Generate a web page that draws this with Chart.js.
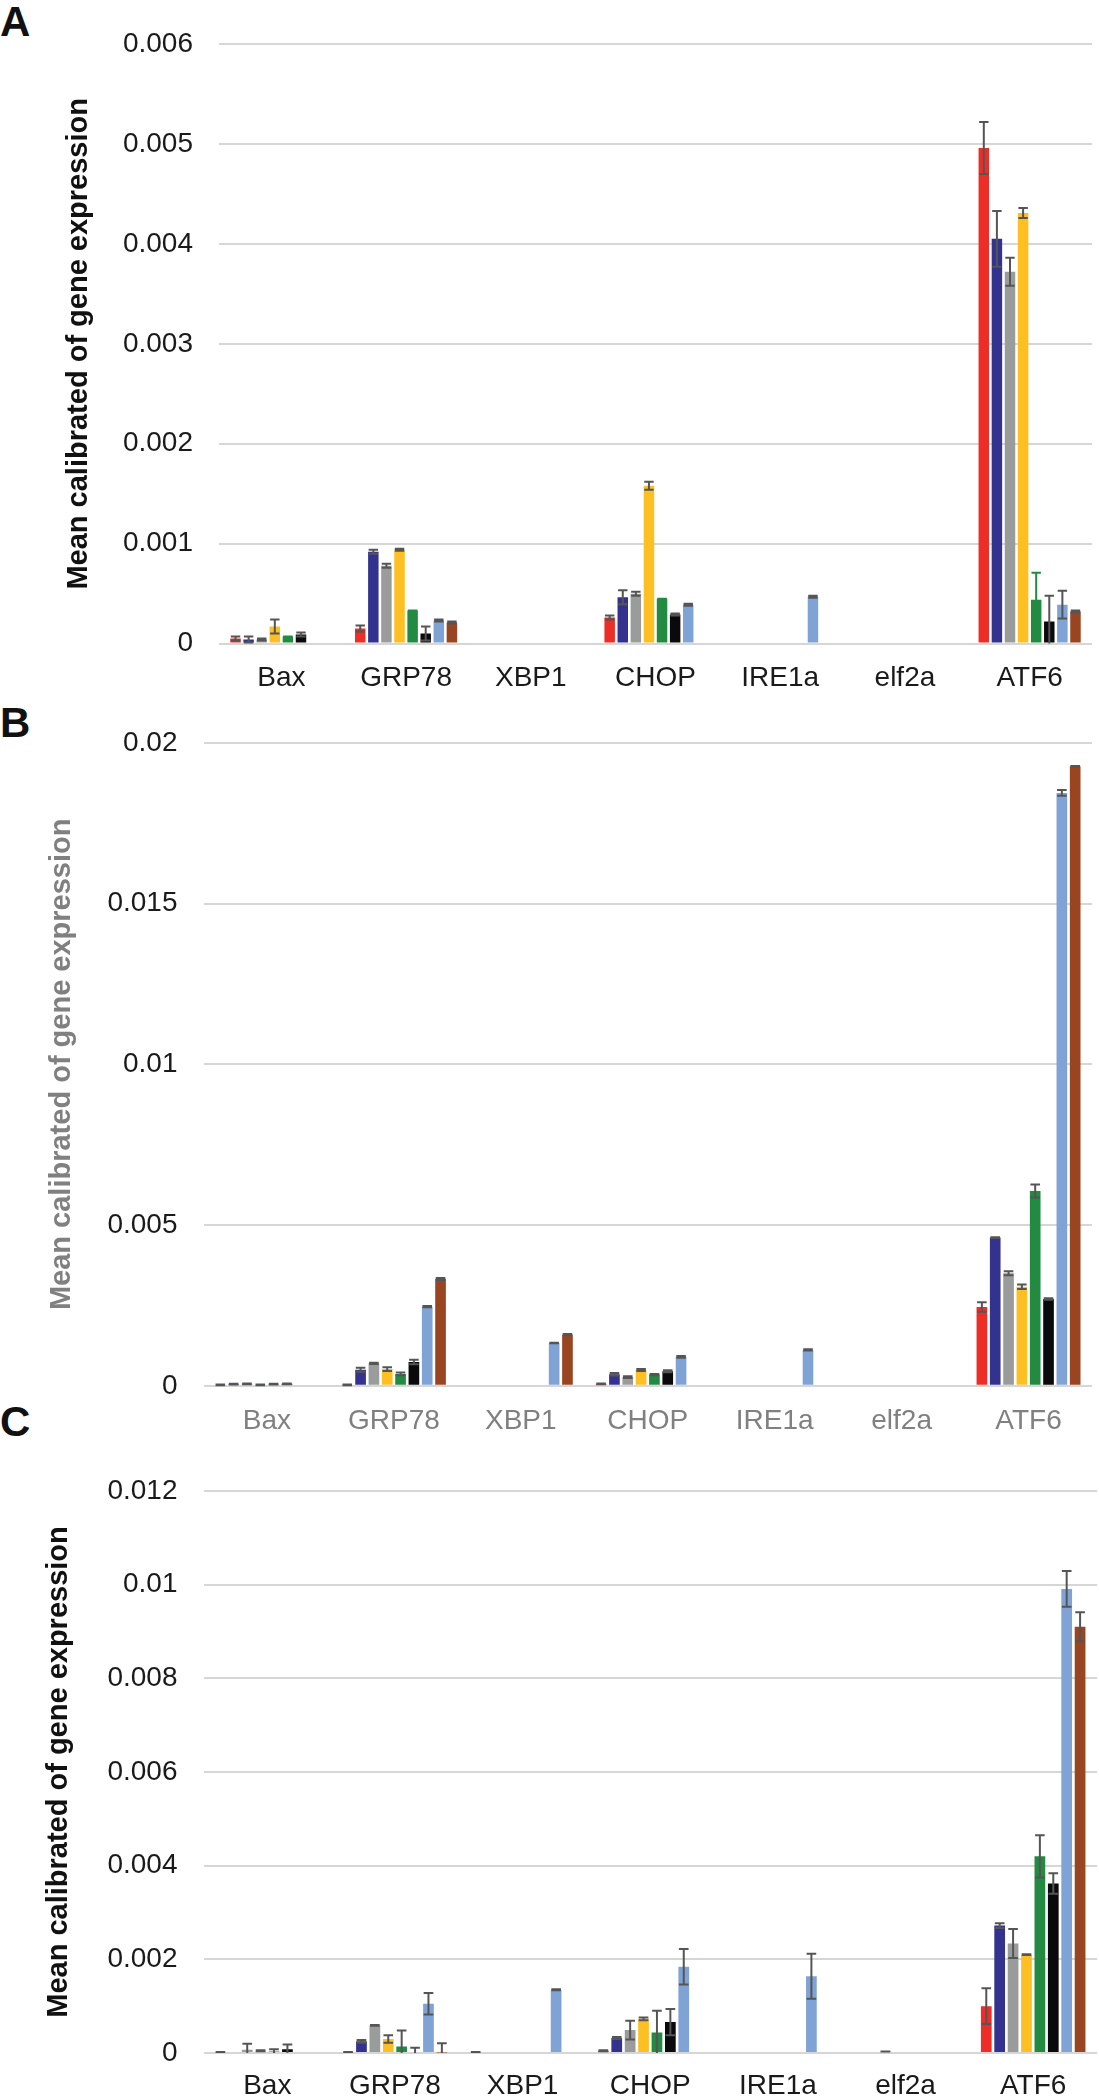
<!DOCTYPE html>
<html>
<head>
<meta charset="utf-8">
<script src="https://cdn.jsdelivr.net/npm/chart.js@4.4.1/dist/chart.umd.min.js"></script>
<style>
  body { margin: 0; background: #fff; width: 1099px; height: 2100px; position: relative; overflow: hidden; }
  canvas { position: absolute; left: 0; }
  .tag { position: absolute; left: 0; font: bold 42px "Liberation Sans", Arial, sans-serif; line-height: 1; color: #111; }
</style>
</head>
<body>
<div class="tag" style="top:1px">A</div>
<div class="tag" style="top:702px">B</div>
<div class="tag" style="top:1401px">C</div>
<canvas id="chartA" width="1099" height="700" style="top:0"></canvas>
<canvas id="chartB" width="1099" height="745" style="top:700px"></canvas>
<canvas id="chartC" width="1099" height="655" style="top:1445px"></canvas>
<script>
const genes = ["Bax", "GRP78", "XBP1", "CHOP", "IRE1a", "elf2a", "ATF6"];
const groups = ["G1", "G2", "G3", "G4", "G5", "G6", "G7", "G8"];
const colors = ["#ED2D26", "#33338F", "#9A9C9C", "#FDBF22", "#238A42", "#0A0A0D", "#80A3D5", "#9A4521"];
const yTitle = "Mean calibrated of gene expression";

// panel A: one row per group, columns follow genes
const valuesA = [
  [0.00005, 0.00015, 0, 0.00026, 0, 0, 0.00496],
  [0.00004, 0.00092, 0, 0.000465, 0, 0, 0.00405],
  [0.00004, 0.00078, 0, 0.0005, 0, 0, 0.00372],
  [0.00017, 0.00094, 0, 0.00158, 0, 0, 0.00431],
  [0.00007, 0.00033, 0, 0.00045, 0, 0, 0.00044],
  [0.00009, 0.0001, 0, 0.00029, 0, 0, 0.00022],
  [0, 0.00023, 0, 0.00039, 0.00047, 0, 0.00039],
  [0, 0.00021, 0, 0, 0, 0, 0.00032]
];
const errorsA = [
  [0.00002, 0.00003, 0, 0.00002, 0, 0, 0.00026],
  [0.00003, 0.00002, 0, 0.00007, 0, 0, 0.00028],
  [0.00001, 0.00002, 0, 0.00002, 0, 0, 0.00014],
  [0.00007, 0.00001, 0, 0.00004, 0, 0, 0.00005],
  [0, 0, 0, 0, 0, 0, 0.00027],
  [0.00002, 0.00007, 0, 0.00001, 0, 0, 0.00026],
  [0, 0.00001, 0, 0.00001, 0.00001, 0, 0.00014],
  [0, 0.00001, 0, 0, 0, 0, 0.00001]
];

// panel B
const valuesB = [
  [0.00003, 0.00003, 0, 0.00006, 0, 0, 0.00245],
  [0.00005, 0.0005, 0, 0.00036, 0, 0, 0.00461],
  [0.00006, 0.0007, 0, 0.00027, 0, 0, 0.0035],
  [0.00003, 0.00052, 0, 0.00049, 0, 0, 0.00308],
  [0.00005, 0.00037, 0, 0.00035, 0, 0, 0.00606],
  [0.00006, 0.00074, 0, 0.00045, 0, 0, 0.0027],
  [0, 0.00246, 0.00133, 0.0009, 0.00112, 0, 0.01844],
  [0, 0.00332, 0.00159, 0, 0, 0, 0.01927]
];
const errorsB = [
  [0.00001, 0.00001, 0, 0.00001, 0, 0, 0.00015],
  [0.00001, 0.00006, 0, 0.00004, 0, 0, 0.00001],
  [0.00001, 0.00002, 0, 0.00003, 0, 0, 0.00006],
  [0.00001, 0.00006, 0, 0.00003, 0, 0, 0.00007],
  [0.00001, 0.00004, 0, 0.00002, 0, 0, 0.0002],
  [0.00001, 0.00007, 0, 0.00003, 0, 0, 0.00002],
  [0, 0.00002, 0.00001, 0.00003, 0.00002, 0, 0.00009],
  [0, 0.00003, 0.00002, 0, 0, 0, 0.00001]
];

// panel C
const valuesC = [
  [0.00002, 0.00002, 0.00002, 0.00005, 0, 0, 0.001],
  [0, 0.00025, 0, 0.00032, 0, 0, 0.00272],
  [0.00007, 0.00059, 0, 0.00049, 0, 0.00003, 0.00234],
  [0.00005, 0.0003, 0, 0.00073, 0, 0, 0.0021],
  [0.00003, 0.00014, 0, 0.00044, 0, 0, 0.0042],
  [0.00008, 0.00002, 0, 0.00066, 0, 0, 0.00362],
  [0, 0.00105, 0.00135, 0.00184, 0.00164, 0, 0.00991],
  [0, 0.00001, 0, 0, 0, 0, 0.0091]
];
const errorsC = [
  [0, 0, 0, 0.00001, 0, 0, 0.00038],
  [0, 0.00003, 0, 0.00002, 0, 0, 0.00005],
  [0.00013, 0.00001, 0, 0.0002, 0, 0, 0.00031],
  [0.00001, 0.00008, 0, 0.00003, 0, 0, 0.00001],
  [0.00005, 0.00034, 0, 0.00046, 0, 0, 0.00045],
  [0.0001, 0.00009, 0, 0.00028, 0, 0, 0.00022],
  [0, 0.00023, 0.00001, 0.00038, 0.00048, 0, 0.00038],
  [0, 0.0002, 0, 0, 0, 0, 0.00031]
];

const ticksA = [0, 0.006, 0.001];
const ticksB = [0, 0.02, 0.005];
const ticksC = [0, 0.012, 0.002];

const FONT = '"Liberation Sans", Arial, sans-serif';

// whiskers with caps, drawn from the y scale
const errorBars = {
  id: "errorBars",
  afterDatasetsDraw(chart) {
    const ctx = chart.ctx, y = chart.scales.y;
    chart.data.datasets.forEach((ds, i) => {
      chart.getDatasetMeta(i).data.forEach((bar, j) => {
        const v = ds.data[j], e = ds.errors[j];
        if (!v) return;
        const yTop = y.getPixelForValue(v + e);
        const yBot = y.getPixelForValue(Math.max(0, v - e));
        const half = bar.width * 0.45;
        ctx.save();
        ctx.strokeStyle = ds.errColor;
        ctx.lineWidth = 2;
        ctx.beginPath();
        ctx.moveTo(bar.x, yTop); ctx.lineTo(bar.x, yBot);
        ctx.moveTo(bar.x - half, yTop); ctx.lineTo(bar.x + half, yTop);
        if (v - e >= 0) { ctx.moveTo(bar.x - half, yBot); ctx.lineTo(bar.x + half, yBot); }
        ctx.stroke();
        ctx.restore();
      });
    });
  }
};

function makeChart(id, values, errors, ticks, o) {
  const cv = document.getElementById(id);
  return new Chart(cv, {
    type: "bar",
    data: {
      labels: genes,
      datasets: groups.map((g, i) => ({
        label: g,
        data: values[i],
        errors: errors[i],
        errColor: (o.errColors && o.errColors[i]) || "#555555",
        backgroundColor: colors[i],
        borderWidth: 0,
        categoryPercentage: 0.84,
        barPercentage: 0.8
      }))
    },
    options: {
      responsive: false,
      animation: false,
      devicePixelRatio: 1,
      layout: { padding: { top: o.top, right: o.right, left: 0, bottom: 0 } },
      plugins: { legend: { display: false }, tooltip: { enabled: false } },
      scales: {
        x: {
          grid: { display: false, drawTicks: false },
          border: { display: false },
          ticks: { color: o.labelColor, font: { family: FONT, size: 28 }, padding: o.xPad, maxRotation: 0 },
          afterFit: s => { s.height = cv.height - o.bottom; }
        },
        y: {
          min: ticks[0], max: ticks[1],
          grid: { color: "#d6d6d6", lineWidth: 2, drawTicks: false },
          border: { display: false },
          ticks: {
            stepSize: ticks[2],
            color: "#1a1a1a",
            padding: 26,
            font: { family: FONT, size: 28 },
            callback: v => String(parseFloat(Number(v).toFixed(4)))
          },
          title: {
            display: true, text: yTitle, color: o.titleColor,
            font: { family: FONT, size: 29, weight: "bold" },
            padding: { top: o.titlePad, bottom: 0 }
          },
          afterFit: s => { s.width = o.left; }
        }
      }
    },
    plugins: [errorBars]
  });
}

makeChart("chartA", valuesA, errorsA, ticksA, {
  top: 44, bottom: 643.6, left: 219, right: 7, xPad: 18,
  labelColor: "#1a1a1a", titleColor: "#111", titlePad: 62,
  errColors: [null, null, null, null, "#238A42"]
});
makeChart("chartB", valuesB, errorsB, ticksB, {
  top: 38.8, bottom: 685.8, left: 203.5, right: 7, xPad: 19,
  labelColor: "#808080", titleColor: "#808080", titlePad: 45
});
makeChart("chartC", valuesC, errorsC, ticksC, {
  top: 46, bottom: 608, left: 203.5, right: 2, xPad: 16,
  labelColor: "#1a1a1a", titleColor: "#111", titlePad: 42
});
</script>
</body>
</html>
